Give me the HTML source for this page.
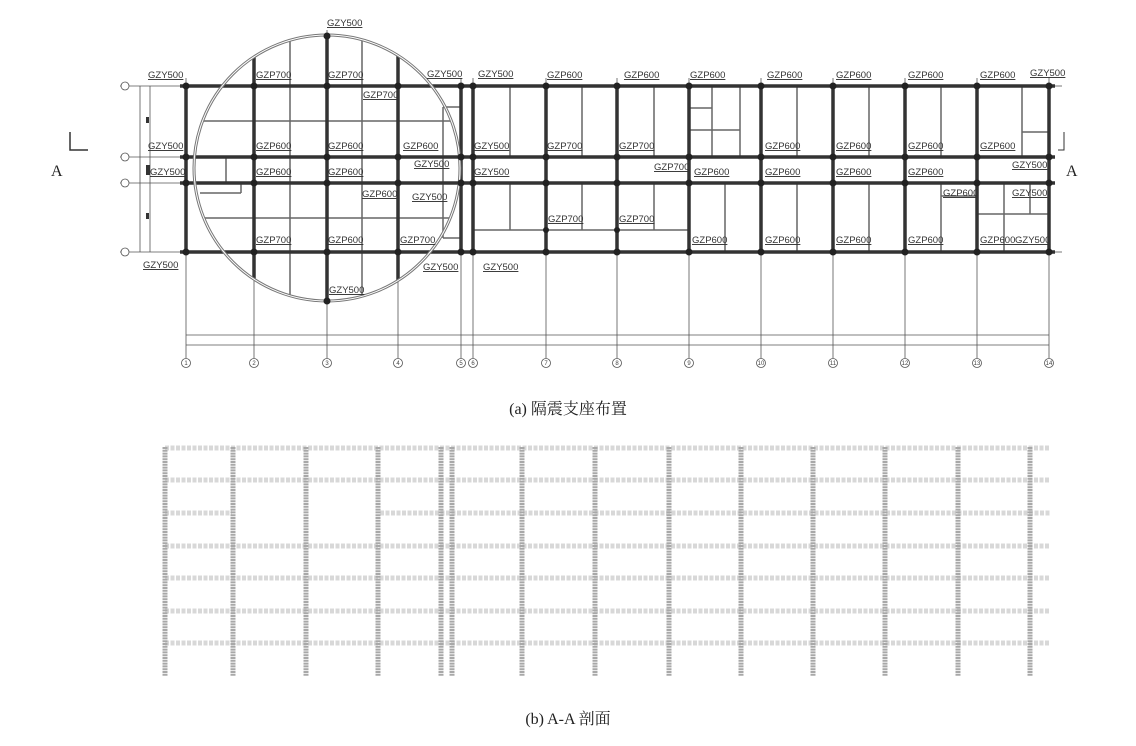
<!DOCTYPE html>
<html><head><meta charset="utf-8"><style>
html,body{margin:0;padding:0;background:#fff}
svg{display:block}
.l{font-family:"Liberation Sans",sans-serif;font-size:9.5px;fill:#333;text-decoration:underline}
.c{font-family:"Liberation Serif","Noto Serif CJK SC",serif;font-size:16px;fill:#222}
.n{font-family:"Liberation Sans",sans-serif;font-size:6px;fill:#444}
</style></head><body>
<svg width="1136" height="746" viewBox="0 0 1136 746" xmlns="http://www.w3.org/2000/svg">
<g stroke="#555" stroke-width="0.8">
<line x1="186" y1="78" x2="186" y2="358"/><line x1="254" y1="78" x2="254" y2="358"/><line x1="327" y1="30" x2="327" y2="358"/><line x1="398" y1="78" x2="398" y2="358"/><line x1="461" y1="78" x2="461" y2="358"/><line x1="473" y1="78" x2="473" y2="358"/><line x1="546" y1="78" x2="546" y2="358"/><line x1="617" y1="78" x2="617" y2="358"/><line x1="689" y1="78" x2="689" y2="358"/><line x1="761" y1="78" x2="761" y2="358"/><line x1="833" y1="78" x2="833" y2="358"/><line x1="905" y1="78" x2="905" y2="358"/><line x1="977" y1="78" x2="977" y2="358"/><line x1="1049" y1="78" x2="1049" y2="358"/>
<line x1="120" y1="86" x2="186" y2="86"/><line x1="120" y1="157" x2="186" y2="157"/><line x1="120" y1="183" x2="186" y2="183"/><line x1="120" y1="252" x2="186" y2="252"/>
<line x1="140" y1="86" x2="140" y2="252"/><line x1="150" y1="86" x2="150" y2="252"/>
<line x1="186" y1="335" x2="1049" y2="335"/><line x1="186" y1="345" x2="1049" y2="345"/>
<line x1="1055" y1="86" x2="1062" y2="86"/><line x1="1055" y1="252" x2="1062" y2="252"/>
</g>
<g fill="#333"><rect x="146" y="117" width="3" height="6"/><rect x="146" y="165" width="4" height="10"/><rect x="146" y="213" width="3" height="6"/></g>
<g fill="#fff" stroke="#555" stroke-width="0.8">
<circle cx="125" cy="86" r="4"/><circle cx="125" cy="157" r="4"/><circle cx="125" cy="183" r="4"/><circle cx="125" cy="252" r="4"/>
<circle cx="186" cy="363" r="4.5"/><circle cx="254" cy="363" r="4.5"/><circle cx="327" cy="363" r="4.5"/><circle cx="398" cy="363" r="4.5"/><circle cx="461" cy="363" r="4.5"/><circle cx="473" cy="363" r="4.5"/><circle cx="546" cy="363" r="4.5"/><circle cx="617" cy="363" r="4.5"/><circle cx="689" cy="363" r="4.5"/><circle cx="761" cy="363" r="4.5"/><circle cx="833" cy="363" r="4.5"/><circle cx="905" cy="363" r="4.5"/><circle cx="977" cy="363" r="4.5"/><circle cx="1049" cy="363" r="4.5"/>
</g>
<g class="n" text-anchor="middle">
<text x="186" y="365">1</text><text x="254" y="365">2</text><text x="327" y="365">3</text><text x="398" y="365">4</text><text x="461" y="365">5</text><text x="473" y="365">6</text><text x="546" y="365">7</text><text x="617" y="365">8</text><text x="689" y="365">9</text><text x="761" y="365">10</text><text x="833" y="365">11</text><text x="905" y="365">12</text><text x="977" y="365">13</text><text x="1049" y="365">14</text>
</g>
<g stroke="#666" stroke-width="1.5" fill="none">
<line x1="290" y1="41" x2="290" y2="295"/><line x1="362" y1="41" x2="362" y2="295"/>
<line x1="204" y1="121" x2="450" y2="121"/><line x1="205" y1="218" x2="449" y2="218"/>
<line x1="226" y1="157" x2="226" y2="183"/><line x1="200" y1="193" x2="241" y2="193"/><line x1="241" y1="183" x2="241" y2="193"/>
<line x1="443" y1="107" x2="461" y2="107"/><line x1="443" y1="107" x2="443" y2="238"/><line x1="443" y1="238" x2="461" y2="238"/>
<line x1="510" y1="86" x2="510" y2="157"/><line x1="582" y1="86" x2="582" y2="157"/><line x1="654" y1="86" x2="654" y2="157"/>
<line x1="510" y1="183" x2="510" y2="230"/><line x1="582" y1="183" x2="582" y2="230"/><line x1="654" y1="183" x2="654" y2="230"/>
<line x1="473" y1="230" x2="689" y2="230"/>
<line x1="712" y1="86" x2="712" y2="157"/><line x1="689" y1="108" x2="712" y2="108"/><line x1="689" y1="130" x2="740" y2="130"/><line x1="740" y1="86" x2="740" y2="157"/>
<line x1="797" y1="86" x2="797" y2="157"/><line x1="869" y1="86" x2="869" y2="157"/><line x1="941" y1="86" x2="941" y2="157"/><line x1="1022" y1="86" x2="1022" y2="157"/><line x1="1022" y1="132" x2="1049" y2="132"/>
<line x1="725" y1="183" x2="725" y2="252"/><line x1="797" y1="183" x2="797" y2="252"/><line x1="869" y1="183" x2="869" y2="252"/>
<line x1="941" y1="183" x2="941" y2="252"/><line x1="941" y1="196" x2="977" y2="196"/>
<line x1="977" y1="214" x2="1049" y2="214"/><line x1="1004" y1="183" x2="1004" y2="252"/><line x1="1030" y1="183" x2="1030" y2="214"/>
</g>
<g stroke="#333" stroke-width="3.5">
<line x1="180" y1="86" x2="1055" y2="86"/><line x1="180" y1="157" x2="1055" y2="157"/><line x1="180" y1="183" x2="1055" y2="183"/><line x1="180" y1="252" x2="1055" y2="252"/>
<line x1="186" y1="86" x2="186" y2="252"/><line x1="254" y1="57" x2="254" y2="279"/><line x1="327" y1="36" x2="327" y2="301"/><line x1="398" y1="56" x2="398" y2="280"/><line x1="461" y1="86" x2="461" y2="252"/><line x1="473" y1="86" x2="473" y2="252"/><line x1="546" y1="86" x2="546" y2="252"/><line x1="617" y1="86" x2="617" y2="252"/><line x1="689" y1="86" x2="689" y2="252"/><line x1="761" y1="86" x2="761" y2="252"/><line x1="833" y1="86" x2="833" y2="252"/><line x1="905" y1="86" x2="905" y2="252"/><line x1="977" y1="86" x2="977" y2="252"/><line x1="1049" y1="86" x2="1049" y2="252"/>
</g>
<circle cx="327" cy="168" r="133" fill="none" stroke="#777" stroke-width="3"/>
<circle cx="327" cy="168" r="133" fill="none" stroke="#fff" stroke-width="1"/>
<g fill="#222">
<circle cx="186" cy="86" r="3.5"/><circle cx="254" cy="86" r="3.5"/><circle cx="327" cy="86" r="3.5"/><circle cx="398" cy="86" r="3.5"/><circle cx="461" cy="86" r="3.5"/><circle cx="473" cy="86" r="3.5"/><circle cx="546" cy="86" r="3.5"/><circle cx="617" cy="86" r="3.5"/><circle cx="689" cy="86" r="3.5"/><circle cx="761" cy="86" r="3.5"/><circle cx="833" cy="86" r="3.5"/><circle cx="905" cy="86" r="3.5"/><circle cx="977" cy="86" r="3.5"/><circle cx="1049" cy="86" r="3.5"/>
<circle cx="186" cy="157" r="3.5"/><circle cx="254" cy="157" r="3.5"/><circle cx="327" cy="157" r="3.5"/><circle cx="398" cy="157" r="3.5"/><circle cx="461" cy="157" r="3.5"/><circle cx="473" cy="157" r="3.5"/><circle cx="546" cy="157" r="3.5"/><circle cx="617" cy="157" r="3.5"/><circle cx="689" cy="157" r="3.5"/><circle cx="761" cy="157" r="3.5"/><circle cx="833" cy="157" r="3.5"/><circle cx="905" cy="157" r="3.5"/><circle cx="977" cy="157" r="3.5"/><circle cx="1049" cy="157" r="3.5"/>
<circle cx="186" cy="183" r="3.5"/><circle cx="254" cy="183" r="3.5"/><circle cx="327" cy="183" r="3.5"/><circle cx="398" cy="183" r="3.5"/><circle cx="461" cy="183" r="3.5"/><circle cx="473" cy="183" r="3.5"/><circle cx="546" cy="183" r="3.5"/><circle cx="617" cy="183" r="3.5"/><circle cx="689" cy="183" r="3.5"/><circle cx="761" cy="183" r="3.5"/><circle cx="833" cy="183" r="3.5"/><circle cx="905" cy="183" r="3.5"/><circle cx="977" cy="183" r="3.5"/><circle cx="1049" cy="183" r="3.5"/>
<circle cx="186" cy="252" r="3.5"/><circle cx="254" cy="252" r="3.5"/><circle cx="327" cy="252" r="3.5"/><circle cx="398" cy="252" r="3.5"/><circle cx="461" cy="252" r="3.5"/><circle cx="473" cy="252" r="3.5"/><circle cx="546" cy="252" r="3.5"/><circle cx="617" cy="252" r="3.5"/><circle cx="689" cy="252" r="3.5"/><circle cx="761" cy="252" r="3.5"/><circle cx="833" cy="252" r="3.5"/><circle cx="905" cy="252" r="3.5"/><circle cx="977" cy="252" r="3.5"/><circle cx="1049" cy="252" r="3.5"/>
<circle cx="327" cy="36" r="3.5"/><circle cx="327" cy="301" r="3.5"/><circle cx="546" cy="230" r="3"/><circle cx="617" cy="230" r="3"/>
</g>
<g class="l">
<text x="327" y="26">GZY500</text>
<text x="148" y="78">GZY500</text><text x="256" y="78">GZP700</text><text x="328" y="78">GZP700</text><text x="427" y="77">GZY500</text><text x="478" y="77">GZY500</text><text x="547" y="78">GZP600</text><text x="624" y="78">GZP600</text><text x="690" y="78">GZP600</text><text x="767" y="78">GZP600</text><text x="836" y="78">GZP600</text><text x="908" y="78">GZP600</text><text x="980" y="78">GZP600</text><text x="1030" y="76">GZY500</text>
<text x="363" y="98">GZP700</text>
<text x="148" y="149">GZY500</text><text x="256" y="149">GZP600</text><text x="328" y="149">GZP600</text><text x="403" y="149">GZP600</text><text x="474" y="149">GZY500</text><text x="547" y="149">GZP700</text><text x="619" y="149">GZP700</text><text x="765" y="149">GZP600</text><text x="836" y="149">GZP600</text><text x="908" y="149">GZP600</text><text x="980" y="149">GZP600</text>
<text x="414" y="167">GZY500</text><text x="654" y="170">GZP700</text><text x="1012" y="168">GZY500</text>
<text x="150" y="175">GZY500</text><text x="256" y="175">GZP600</text><text x="328" y="175">GZP600</text><text x="474" y="175">GZY500</text><text x="694" y="175">GZP600</text><text x="765" y="175">GZP600</text><text x="836" y="175">GZP600</text><text x="908" y="175">GZP600</text>
<text x="362" y="197">GZP600</text><text x="943" y="196">GZP600</text><text x="1012" y="196">GZY500</text><text x="412" y="200">GZY500</text>
<text x="548" y="222">GZP700</text><text x="619" y="222">GZP700</text>
<text x="256" y="243">GZP700</text><text x="328" y="243">GZP600</text><text x="400" y="243">GZP700</text><text x="692" y="243">GZP600</text><text x="765" y="243">GZP600</text><text x="836" y="243">GZP600</text><text x="908" y="243">GZP600</text><text x="980" y="243">GZP600</text><text x="1015" y="243">GZY500</text>
<text x="143" y="268">GZY500</text><text x="423" y="270">GZY500</text><text x="483" y="270">GZY500</text>
<text x="329" y="293">GZY500</text>
</g>
<g stroke="#333" fill="none" stroke-width="1.5"><path d="M70 132V150H88"/><path d="M1064 132V150H1058" stroke-width="1"/></g>
<text class="c" x="51" y="176">A</text><text class="c" x="1066" y="176">A</text>
<text class="c" x="568" y="414" text-anchor="middle">(a) 隔震支座布置</text>
<g stroke="#d8d8d8" stroke-width="5" stroke-dasharray="4 1.5">
<line x1="165" y1="448" x2="1050" y2="448"/><line x1="165" y1="480" x2="1050" y2="480"/>
<line x1="165" y1="513" x2="232" y2="513"/><line x1="380" y1="513" x2="1050" y2="513"/>
<line x1="165" y1="546" x2="1050" y2="546"/><line x1="165" y1="578" x2="1050" y2="578"/><line x1="165" y1="611" x2="1050" y2="611"/><line x1="165" y1="643" x2="1050" y2="643"/>
</g>
<g stroke="#a8a8a8" stroke-width="5" stroke-dasharray="2 0.8">
<line x1="165" y1="447" x2="165" y2="676"/><line x1="233" y1="447" x2="233" y2="676"/><line x1="306" y1="447" x2="306" y2="676"/><line x1="378" y1="447" x2="378" y2="676"/><line x1="441" y1="447" x2="441" y2="676"/><line x1="452" y1="447" x2="452" y2="676"/><line x1="522" y1="447" x2="522" y2="676"/><line x1="595" y1="447" x2="595" y2="676"/><line x1="669" y1="447" x2="669" y2="676"/><line x1="741" y1="447" x2="741" y2="676"/><line x1="813" y1="447" x2="813" y2="676"/><line x1="885" y1="447" x2="885" y2="676"/><line x1="958" y1="447" x2="958" y2="676"/><line x1="1030" y1="447" x2="1030" y2="676"/>
</g>
<text class="c" x="568" y="724" text-anchor="middle">(b) A-A 剖面</text>
</svg>
</body></html>
